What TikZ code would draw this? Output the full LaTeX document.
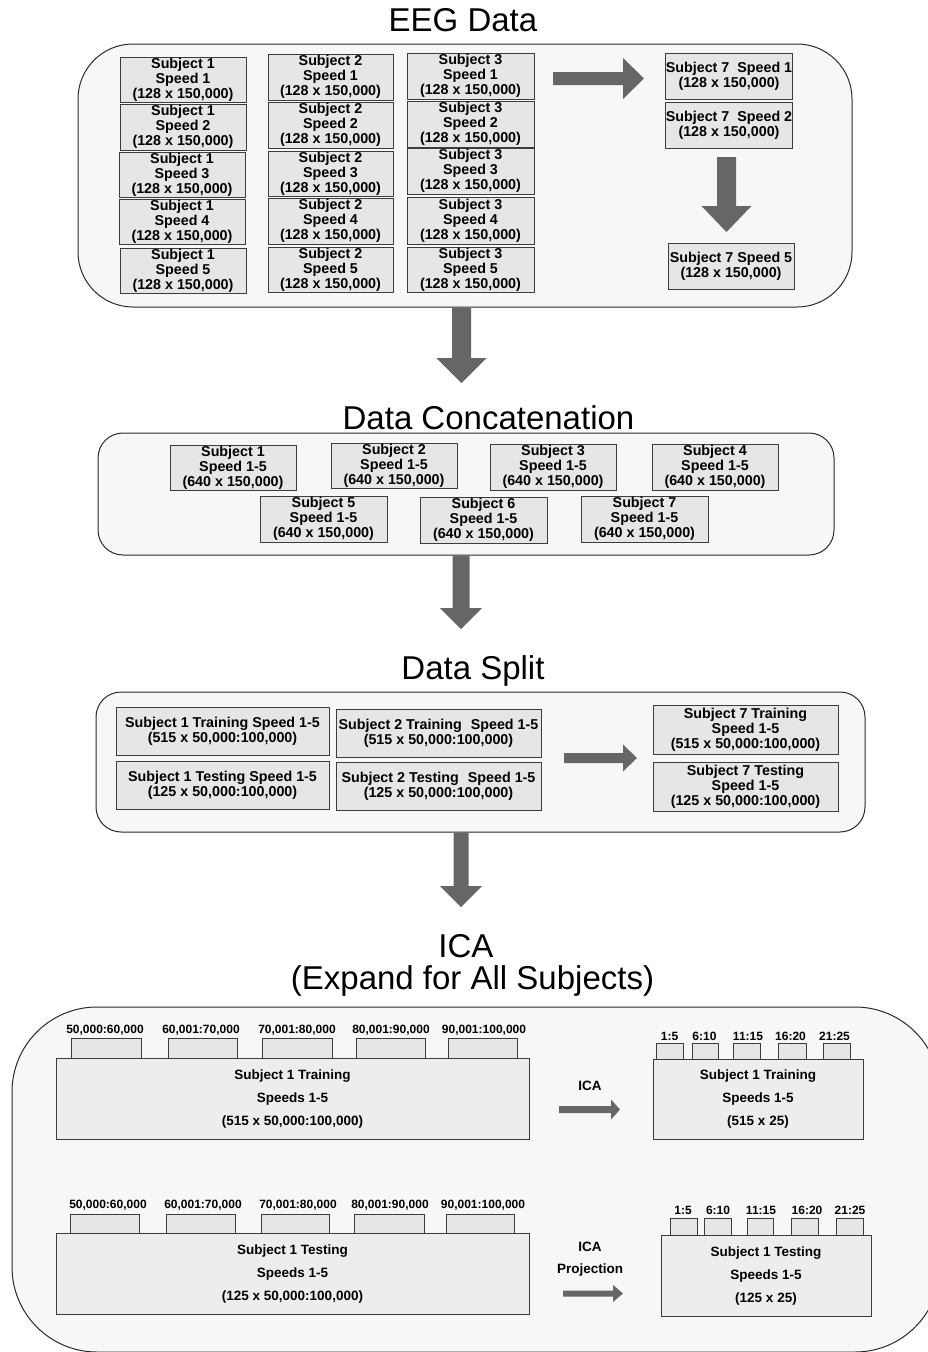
\documentclass[tikz,border=0pt]{standalone}
\usepackage{fontspec}
\setmainfont{Liberation Sans}
\definecolor{panelfill}{HTML}{F7F7F7}
\definecolor{panelline}{HTML}{2A2A2A}
\definecolor{cellfill}{HTML}{E6E6E6}
\definecolor{cellline}{HTML}{3C3C3C}
\definecolor{bigfill}{HTML}{EDEDED}
\definecolor{arrowc}{HTML}{666666}

% box given by its corners: name, x1, y1, x2, y2, text, style
\newcommand\cell[7]{\node[#7, minimum width={#4-#2}, minimum height={#5-#3}] (#1) at ({(#2+#4)/2},{(#3+#5)/2}) {#6};}
% block arrow pointing down: centre x, top, head base, tip, shaft half width, head half width
\newcommand\blockdown[6]{\fill[arrowc] ({#1-#5},#2) -- ({#1+#5},#2) -- ({#1+#5},#3) -- ({#1+#6},#3) -- (#1,#4) -- ({#1-#6},#3) -- ({#1-#5},#3) -- cycle;}
% block arrow pointing right: centre y, start, head base, tip, shaft half width, head half width
\newcommand\blockright[6]{\fill[arrowc] (#2,{#1-#5}) -- (#3,{#1-#5}) -- (#3,{#1-#6}) -- (#4,#1) -- (#3,{#1+#6}) -- (#3,{#1+#5}) -- (#2,{#1+#5}) -- cycle;}

\begin{document}
\begin{tikzpicture}[x=1pt,y=-1pt,
  panel/.style={draw=panelline, fill=panelfill, line width=1pt, inner sep=0pt},
  cellbox/.style={draw=cellline, fill=cellfill, line width=0.9pt, inner sep=0pt, align=center,
    font=\bfseries\fontsize{14.3}{15}\selectfont},
  bigbox/.style={draw=cellline, fill=bigfill, line width=0.9pt, inner sep=0pt, align=center,
    font=\bfseries\fontsize{13.5}{23}\selectfont},
  tabbox/.style={draw=cellline, fill=cellfill, line width=0.9pt, inner sep=0pt},
  tablabel/.style={inner sep=0pt, font=\bfseries\fontsize{12}{14}\selectfont},
  steplabel/.style={inner sep=0pt, align=center, font=\bfseries\fontsize{13.5}{22}\selectfont},
  heading/.style={inner sep=0pt, anchor=base, align=center, font=\fontsize{33}{35}\selectfont}]
\useasboundingbox (0,0) rectangle (927,1352);

% ---------- EEG data ----------
\node[heading] (tEEG) at (463,31) {EEG Data};
\cell{eeg}{78}{44}{852}{307}{}{panel, rounded corners=55pt}

\cell{e11}{120}{57}{246}{102}{Subject 1\\Speed 1\\(128 x 150,000)}{cellbox}
\cell{e12}{120}{104}{246}{150}{Subject 1\\Speed 2\\(128 x 150,000)}{cellbox}
\cell{e13}{119}{152}{245}{197}{Subject 1\\Speed 3\\(128 x 150,000)}{cellbox}
\cell{e14}{119}{199}{245}{244}{Subject 1\\Speed 4\\(128 x 150,000)}{cellbox}
\cell{e15}{120}{248}{246}{293}{Subject 1\\Speed 5\\(128 x 150,000)}{cellbox}

\cell{e21}{268}{54}{393}{100}{Subject 2\\Speed 1\\(128 x 150,000)}{cellbox}
\cell{e22}{268}{102}{393}{148}{Subject 2\\Speed 2\\(128 x 150,000)}{cellbox}
\cell{e23}{268}{151}{393}{196}{Subject 2\\Speed 3\\(128 x 150,000)}{cellbox}
\cell{e24}{268}{198}{393}{244}{Subject 2\\Speed 4\\(128 x 150,000)}{cellbox}
\cell{e25}{268}{247}{393}{292}{Subject 2\\Speed 5\\(128 x 150,000)}{cellbox}

\cell{e31}{407}{53}{534}{99}{Subject 3\\Speed 1\\(128 x 150,000)}{cellbox}
\cell{e32}{407}{101}{534}{147}{Subject 3\\Speed 2\\(128 x 150,000)}{cellbox}
\cell{e33}{407}{148}{534}{194}{Subject 3\\Speed 3\\(128 x 150,000)}{cellbox}
\cell{e34}{407}{197}{534}{244}{Subject 3\\Speed 4\\(128 x 150,000)}{cellbox}
\cell{e35}{407}{247}{534}{292}{Subject 3\\Speed 5\\(128 x 150,000)}{cellbox}

\blockright{78.5}{553}{623}{644}{6.5}{20.5}

\cell{e71}{666}{53}{792}{99}{Subject 7\ \ Speed 1\\(128 x 150,000)}{cellbox}
\cell{e72}{666}{102}{792}{148}{Subject 7\ \ Speed 2\\(128 x 150,000)}{cellbox}
\blockdown{726.5}{157}{206}{232}{9.5}{25}
\cell{e75}{668}{243}{794}{289}{Subject 7 Speed 5\\(128 x 150,000)}{cellbox}

\blockdown{461.5}{307.5}{358}{383}{9.5}{25}

% ---------- Data concatenation ----------
\node[heading] (tCat) at (488.5,429) {Data Concatenation};
\cell{cat}{98}{433}{834}{555}{}{panel, rounded corners=25pt}
\cell{c1}{170}{445}{296}{490}{Subject 1\\Speed 1-5\\(640 x 150,000)}{cellbox}
\cell{c2}{331}{443}{457}{488}{Subject 2\\Speed 1-5\\(640 x 150,000)}{cellbox}
\cell{c3}{490}{444}{616}{490}{Subject 3\\Speed 1-5\\(640 x 150,000)}{cellbox}
\cell{c4}{652}{444}{778}{490}{Subject 4\\Speed 1-5\\(640 x 150,000)}{cellbox}
\cell{c5}{260}{496}{387}{542}{Subject 5\\Speed 1-5\\(640 x 150,000)}{cellbox}
\cell{c6}{420}{497}{547}{543}{Subject 6\\Speed 1-5\\(640 x 150,000)}{cellbox}
\cell{c7}{581}{496}{708}{542}{Subject 7\\Speed 1-5\\(640 x 150,000)}{cellbox}

\blockdown{461}{555.5}{608}{629}{8.5}{21}

% ---------- Data split ----------
\node[heading] (tSplit) at (473,679) {Data Split};
\cell{split}{96}{692}{865}{832}{}{panel, rounded corners=25pt}
\cell{s1a}{116}{707}{329}{755}{Subject 1 Training Speed 1-5\\(515 x 50,000:100,000)}{cellbox}
\cell{s1b}{116}{761}{329}{809}{Subject 1 Testing Speed 1-5\\(125 x 50,000:100,000)}{cellbox}
\cell{s2a}{336}{709}{541}{757}{Subject 2 Training\hspace{9pt}Speed 1-5\\(515 x 50,000:100,000)}{cellbox}
\cell{s2b}{336}{762}{541}{810}{Subject 2 Testing\hspace{9pt}Speed 1-5\\(125 x 50,000:100,000)}{cellbox}
\blockright{758}{564}{623}{637}{5}{13.5}
\cell{s7a}{653}{705}{838}{754}{Subject 7 Training\\Speed 1-5\\(515 x 50,000:100,000)}{cellbox}
\cell{s7b}{653}{762}{838}{811}{Subject 7 Testing\\Speed 1-5\\(125 x 50,000:100,000)}{cellbox}

\blockdown{461}{832.5}{886}{907}{7.5}{21}

% ---------- ICA ----------
\node[heading] (tICA) at (466,957) {ICA};
\node[heading] (tExp) at (472.5,989) {(Expand for All Subjects)};
\cell{ica}{12}{1007}{940}{1352}{}{panel, rounded corners=85pt}

% training set, before ICA
\cell{ta1}{71}{1038}{141}{1058}{}{tabbox}
\cell{ta2}{168}{1038}{237}{1058}{}{tabbox}
\cell{ta3}{262}{1038}{332}{1058}{}{tabbox}
\cell{ta4}{356}{1038}{425}{1058}{}{tabbox}
\cell{ta5}{448}{1038}{517}{1058}{}{tabbox}
\node[tablabel] (la1) at (105,1030) {50,000:60,000};
\node[tablabel] (la2) at (201,1030) {60,001:70,000};
\node[tablabel] (la3) at (297,1030) {70,001:80,000};
\node[tablabel] (la4) at (391,1030) {80,001:90,000};
\node[tablabel] (la5) at (484,1030) {90,001:100,000};
\cell{train}{56}{1058}{529}{1139}{Subject 1 Training\\Speeds 1-5\\(515 x 50,000:100,000)}{bigbox}

\node[steplabel] (ica1) at (590,1086) {ICA};
\blockright{1109.5}{559}{611}{620}{3.5}{10}

% training set, after ICA
\cell{tb1}{656}{1043}{683}{1059}{}{tabbox}
\cell{tb2}{692}{1043}{718}{1059}{}{tabbox}
\cell{tb3}{733}{1043}{760}{1059}{}{tabbox}
\cell{tb4}{778}{1043}{806}{1059}{}{tabbox}
\cell{tb5}{823}{1043}{850}{1059}{}{tabbox}
\node[tablabel] (lb1) at (669.5,1036) {1:5};
\node[tablabel] (lb2) at (704.5,1036) {6:10};
\node[tablabel] (lb3) at (748,1036) {11:15};
\node[tablabel] (lb4) at (790.5,1036) {16:20};
\node[tablabel] (lb5) at (834.5,1036) {21:25};
\cell{trainica}{653}{1059}{863}{1139}{Subject 1 Training\\Speeds 1-5\\(515 x 25)}{bigbox}

% testing set, before projection
\cell{tc1}{70}{1214}{139}{1233}{}{tabbox}
\cell{tc2}{166}{1214}{235}{1233}{}{tabbox}
\cell{tc3}{261}{1214}{329}{1233}{}{tabbox}
\cell{tc4}{354}{1214}{424}{1233}{}{tabbox}
\cell{tc5}{446}{1214}{514}{1233}{}{tabbox}
\node[tablabel] (lc1) at (108,1205) {50,000:60,000};
\node[tablabel] (lc2) at (203,1205) {60,001:70,000};
\node[tablabel] (lc3) at (298,1205) {70,001:80,000};
\node[tablabel] (lc4) at (390,1205) {80,001:90,000};
\node[tablabel] (lc5) at (483,1205) {90,001:100,000};
\cell{test}{56}{1233}{529}{1314}{Subject 1 Testing\\Speeds 1-5\\(125 x 50,000:100,000)}{bigbox}

\node[steplabel] (ica2) at (590,1259) {ICA\\Projection};
\blockright{1293.5}{563}{613}{623}{3}{8.5}

% testing set, after projection
\cell{td1}{670}{1218}{697}{1235}{}{tabbox}
\cell{td2}{704}{1218}{731}{1235}{}{tabbox}
\cell{td3}{747}{1218}{773}{1235}{}{tabbox}
\cell{td4}{791}{1218}{818}{1235}{}{tabbox}
\cell{td5}{836}{1218}{863}{1235}{}{tabbox}
\node[tablabel] (ld1) at (683,1210) {1:5};
\node[tablabel] (ld2) at (718,1210) {6:10};
\node[tablabel] (ld3) at (761,1210) {11:15};
\node[tablabel] (ld4) at (807,1210) {16:20};
\node[tablabel] (ld5) at (850,1210) {21:25};
\cell{testica}{661}{1235}{871}{1316}{Subject 1 Testing\\Speeds 1-5\\(125 x 25)}{bigbox}
\end{tikzpicture}
\end{document}
